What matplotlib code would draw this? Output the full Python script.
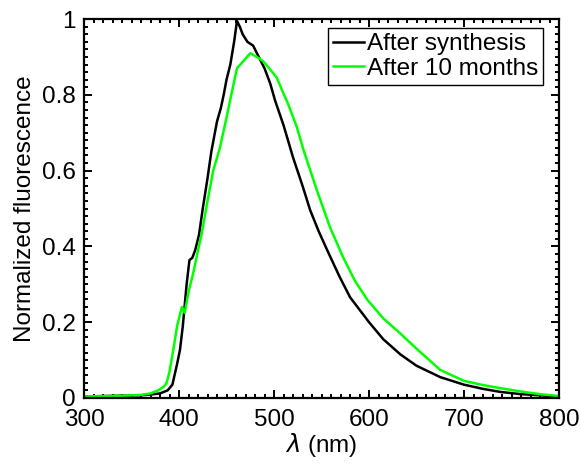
import matplotlib
matplotlib.use('Agg')
import matplotlib.pyplot as plt
from matplotlib.ticker import MultipleLocator

# After synthesis (black)
wl_syn = [300, 320, 340, 360, 370, 380, 388, 393, 398, 401, 404, 408, 411, 414, 417,
          421, 425, 430, 434, 437, 440, 444, 447, 450, 454, 458, 461, 464, 467, 472,
          478, 482, 486, 490, 496, 501, 510, 520, 530, 538, 547, 556, 569, 580, 600,
          615, 633, 650, 675, 700, 720, 738, 760, 780, 800]
fl_syn = [0.004, 0.005, 0.006, 0.007, 0.009, 0.012, 0.02, 0.035, 0.09, 0.127, 0.19, 0.30, 0.364, 0.37, 0.39,
          0.43, 0.50, 0.58, 0.65, 0.69, 0.73, 0.765, 0.80, 0.84, 0.88, 0.94, 0.995, 0.98, 0.96, 0.94,
          0.93, 0.91, 0.89, 0.87, 0.83, 0.786, 0.72, 0.635, 0.56, 0.496, 0.44, 0.39, 0.32, 0.266, 0.20,
          0.155, 0.115, 0.085, 0.055, 0.035, 0.024, 0.016, 0.01, 0.007, 0.004]

# After 10 months (green)
wl_10m = [300, 320, 340, 360, 370, 378, 384, 387, 390, 394, 398, 403, 406, 410, 415,
          420, 424, 430, 436, 443, 450, 455, 461, 468, 475, 482, 488, 495, 503, 508,
          515, 524, 531, 545, 559, 573, 585, 598, 615, 633, 650, 675, 700, 720, 738,
          760, 780, 800]
fl_10m = [0.004, 0.005, 0.006, 0.008, 0.012, 0.02, 0.03, 0.04, 0.07, 0.127, 0.19, 0.24, 0.224, 0.28, 0.33,
          0.39, 0.435, 0.52, 0.60, 0.66, 0.74, 0.80, 0.87, 0.89, 0.91, 0.90, 0.89, 0.87, 0.845, 0.815,
          0.775, 0.715, 0.655, 0.549, 0.45, 0.37, 0.31, 0.26, 0.21, 0.17, 0.13, 0.074, 0.045, 0.034, 0.026,
          0.017, 0.01, 0.005]

plt.rcParams['font.family'] = ['Liberation Sans', 'DejaVu Sans']
plt.rcParams['font.size'] = 17.5

fig = plt.figure(figsize=(5.81, 4.66), dpi=100)
ax = fig.add_axes([0.1446, 0.146, 0.8176, 0.813])

ax.plot(wl_syn, fl_syn, color='black', linewidth=1.8, label='After synthesis')
ax.plot(wl_10m, fl_10m, color='#00ff00', linewidth=1.8, label='After 10 months')

ax.set_xlim(300, 800)
ax.set_ylim(0, 1)
ax.set_xticks([300, 400, 500, 600, 700, 800])
ax.set_yticks([0, 0.2, 0.4, 0.6, 0.8, 1])
ax.set_yticklabels(['0', '0.2', '0.4', '0.6', '0.8', '1'])
ax.xaxis.set_minor_locator(MultipleLocator(10))
ax.yaxis.set_minor_locator(MultipleLocator(0.02))
ax.tick_params(which='both', direction='in', top=True, right=True, width=1.4)
ax.tick_params(axis='x', pad=8)
ax.tick_params(axis='y', pad=6)
ax.tick_params(which='major', length=6)
ax.tick_params(which='minor', length=3.2)
for s in ax.spines.values():
    s.set_linewidth(1.6)

ax.set_xlabel(r'$\lambda$ (nm)', labelpad=0)
ax.set_ylabel('Normalized fluorescence', labelpad=4)

leg = ax.legend(loc='upper right', bbox_to_anchor=(0.966, 0.976), borderaxespad=0,
                fancybox=False, edgecolor='black', framealpha=1, handlelength=1.3,
                handletextpad=0.1, labelspacing=0.12, borderpad=0.2)
leg.get_frame().set_linewidth(1.0)

fig.savefig('out.png', dpi=100)
